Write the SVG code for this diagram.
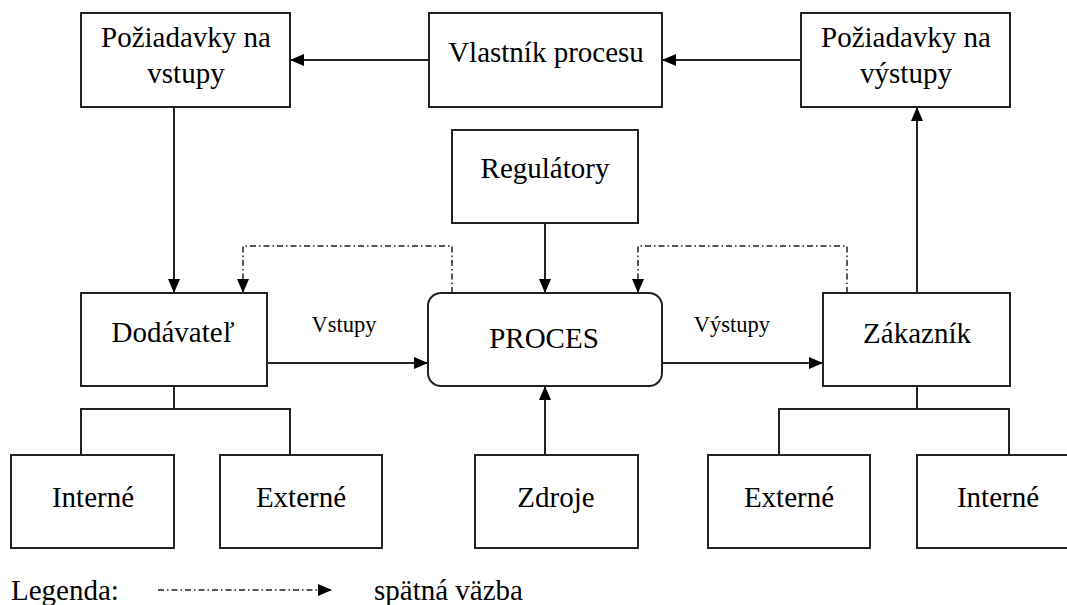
<svg xmlns="http://www.w3.org/2000/svg" width="1067" height="605" viewBox="0 0 1067 605">
<defs>
<style>
.box{fill:#fff;stroke:#222;stroke-width:2}
.t{font-family:"Liberation Serif","Times New Roman",serif;font-size:29px;fill:#000;text-anchor:middle}
.s{font-family:"Liberation Serif","Times New Roman",serif;font-size:22.5px;fill:#000;text-anchor:middle}
.l{font-family:"Liberation Serif","Times New Roman",serif;font-size:29px;fill:#000}
.ln{fill:none;stroke:#222;stroke-width:2}
.fb{fill:none;stroke:#222;stroke-width:1.5;stroke-dasharray:6 3 1.5 3}
</style>
<marker id="ah" markerWidth="14" markerHeight="12" refX="13" refY="6" orient="auto" markerUnits="userSpaceOnUse">
<path d="M0,0 L14,6 L0,12 Z" fill="#000"/>
</marker>
</defs>
<rect width="1067" height="605" fill="#fff"/>

<g id="connectors">
<line class="ln" x1="429" y1="60" x2="291" y2="60" marker-end="url(#ah)"/>
<line class="ln" x1="801" y1="60" x2="663" y2="60" marker-end="url(#ah)"/>
<line class="ln" x1="174" y1="107" x2="174" y2="292" marker-end="url(#ah)"/>
<line class="ln" x1="917" y1="293" x2="917" y2="108" marker-end="url(#ah)"/>
<line class="ln" x1="545" y1="223" x2="545" y2="292" marker-end="url(#ah)"/>
<line class="ln" x1="545" y1="455" x2="545" y2="387" marker-end="url(#ah)"/>
<line class="ln" x1="267" y1="363" x2="427" y2="363" marker-end="url(#ah)"/>
<line class="ln" x1="662" y1="363" x2="822" y2="363" marker-end="url(#ah)"/>
<polyline class="fb" points="452,293 452,246 243,246 243,292" marker-end="url(#ah)"/>
<polyline class="fb" points="847,293 847,246 638,246 638,292" marker-end="url(#ah)"/>
<polyline class="ln" points="174,386 174,409"/>
<polyline class="ln" points="81,455 81,409 290,409 290,455"/>
<polyline class="ln" points="917,386 917,409"/>
<polyline class="ln" points="779,455 779,409 1009,409 1009,455"/>
</g>

<g id="poz-vstupy"><rect class="box" x="81" y="13" width="209" height="94"/><text class="t" x="186" y="47">Požiadavky na</text><text class="t" x="186" y="83">vstupy</text></g>
<g id="vlastnik"><rect class="box" x="429" y="13" width="233" height="94"/><text class="t" x="546" y="62">Vlastník procesu</text></g>
<g id="poz-vystupy"><rect class="box" x="801" y="13" width="209" height="94"/><text class="t" x="906" y="47">Požiadavky na</text><text class="t" x="906" y="83">výstupy</text></g>
<g id="regulatory"><rect class="box" x="452" y="130" width="186" height="93"/><text class="t" x="545" y="178">Regulátory</text></g>
<g id="dodavatel"><rect class="box" x="81" y="293" width="186" height="93"/><text class="t" x="173" y="342">Dodávateľ</text></g>
<g id="proces"><rect class="box" x="428" y="293" width="234" height="93" rx="13"/><text class="t" x="544" y="348">PROCES</text></g>
<g id="zakaznik"><rect class="box" x="823" y="293" width="187" height="93"/><text class="t" x="917" y="343">Zákazník</text></g>
<g id="lbl-vstupy"><text class="s" x="344" y="332">Vstupy</text></g>
<g id="lbl-vystupy"><text class="s" x="732" y="332">Výstupy</text></g>
<g id="interne-l"><rect class="box" x="11" y="455" width="163" height="93"/><text class="t" x="93" y="507">Interné</text></g>
<g id="externe-l"><rect class="box" x="220" y="455" width="162" height="93"/><text class="t" x="301" y="507">Externé</text></g>
<g id="zdroje"><rect class="box" x="475" y="455" width="163" height="93"/><text class="t" x="556" y="507">Zdroje</text></g>
<g id="externe-r"><rect class="box" x="708" y="455" width="162" height="93"/><text class="t" x="789" y="507">Externé</text></g>
<g id="interne-r"><rect class="box" x="917" y="455" width="163" height="93"/><text class="t" x="998" y="507">Interné</text></g>

<g id="legend">
<text class="l" x="11" y="600">Legenda:</text>
<line class="fb" x1="158" y1="590" x2="331" y2="590" marker-end="url(#ah)"/>
<text class="l" x="374" y="600">spätná väzba</text>
</g>
</svg>
